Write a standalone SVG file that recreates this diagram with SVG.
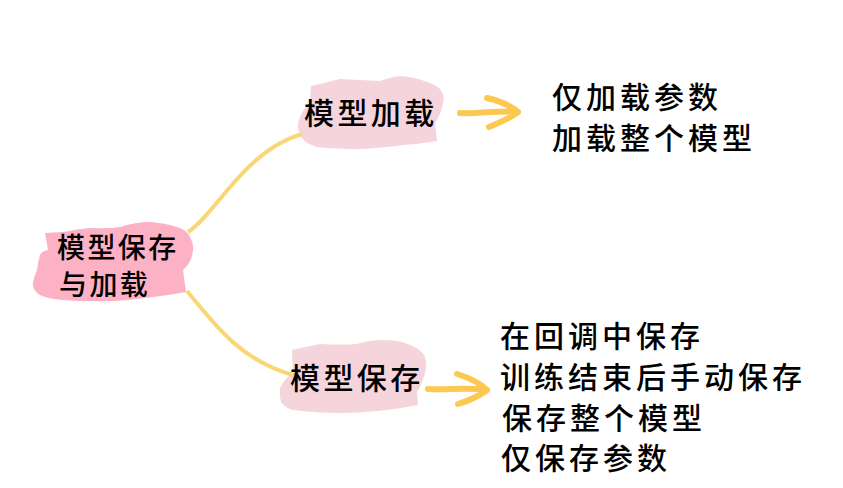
<svg xmlns="http://www.w3.org/2000/svg" width="843" height="488" viewBox="0 0 843 488">
<style>
text{font-family:"Noto Sans CJK SC","Noto Sans",sans-serif;fill:#000;font-weight:500}
.r{font-size:28px;letter-spacing:2.4px}
.n{font-size:30px;letter-spacing:3.4px}
.l{font-size:30px;letter-spacing:4px}
.c{fill:none;stroke:#fad776;stroke-width:4;stroke-linecap:butt}
.a{fill:none;stroke:#fdc84f;stroke-width:6;stroke-linecap:round;stroke-linejoin:round}
.p{fill:#f5d4dc}
</style>
<rect width="843" height="488" fill="#fff"/>
<g id="node-root">
<path fill="#fcb1c5" d="M45 233 L63 232 Q78 229 90 228 Q108 229 120 227 Q136 222 150 222 Q165 223 177 227 Q187 230 190 237 Q194 244 193 250 Q192 262 183 270 L186 292 Q170 295 153 297 Q132 300 113 301 Q85 302 63 300 Q48 299 40 295 Q32 290 33 283 Q34 276 37 270 Q38 262 40 255 Q42 251 48 250 Z"/>
<text class="r" x="57" y="258">模型保存</text>
<text class="r" x="59" y="295">与加载</text>
</g>
<g id="node-load">
<path class="p" d="M311 86 Q325 83 340 79 Q360 80 380 81 Q390 77 400 76 Q415 77 427 82 Q439 86 442 92 Q445 98 443 103 Q441 114 435 123 L437 141 Q420 144 403 145 Q380 148 360 149 Q335 149 317 147 Q306 144 302 138 Q297 130 298 123 Q302 110 310 102 Z"/>
<text class="n" x="304" y="124">模型加载</text>
</g>
<g id="node-save">
<path class="p" d="M292 350 Q305 347 320 344 Q340 345 357 344 Q370 340 383 340 Q400 340 410 345 Q422 350 425 357 Q427 365 425 373 Q422 384 417 392 L418 405 Q403 408 387 410 Q362 413 340 413 Q315 413 293 410 Q284 407 281 402 Q279 395 280 388 Q285 378 293 373 Z"/>
</g>
<g id="connectors">
<path class="c" d="M188 232 C215 215 245 150 302 134"/>
<path class="c" d="M187 291 C215 325 240 360 293 375"/>
<path class="a" d="M460 113 C480 114 500 110 518 112 M487 98 C500 101 511 106 518 112 C510 118 499 123 489 127"/>
<path class="a" d="M428 389 C448 390 468 387 487 390 M457 374 C470 378 481 384 487 390 C479 396 468 401 458 404"/>
</g>
<g id="label-save"><text class="n" x="290" y="389">模型保存</text></g>
<g id="list-load">
<text class="l" x="552" y="108">仅加载参数</text>
<text class="l" x="552" y="149">加载整个模型</text>
</g>
<g id="list-save">
<text class="l" x="500" y="347">在回调中保存</text>
<text class="l" x="500" y="388">训练结束后手动保存</text>
<text class="l" x="502" y="429">保存整个模型</text>
<text class="l" x="501" y="469">仅保存参数</text>
</g>
</svg>
